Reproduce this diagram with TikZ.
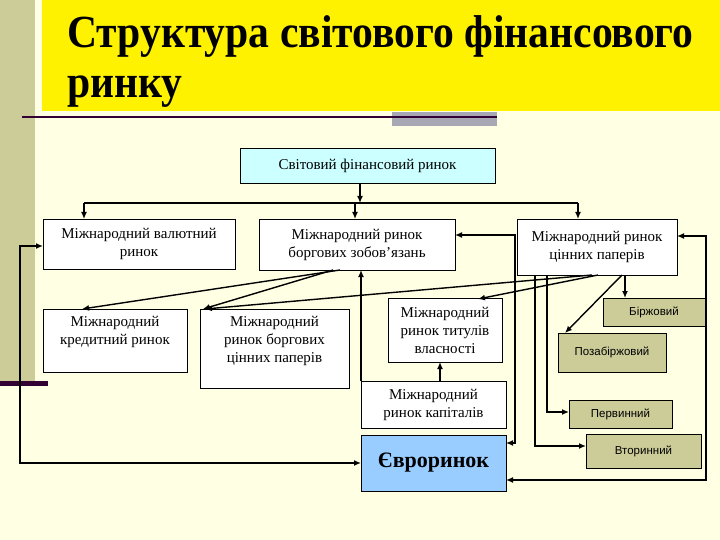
\documentclass[tikz,border=0pt]{standalone}
\usepackage{fontspec}
\setmainfont{Liberation Serif}
\newfontfamily\arialf{Liberation Sans}
\usetikzlibrary{arrows.meta}
\definecolor{bgc}{HTML}{FFFFE3}
\definecolor{khaki}{HTML}{CCCC99}
\definecolor{darkbar}{HTML}{330033}
\definecolor{graybar}{HTML}{A8A8B4}
\definecolor{cyanbox}{HTML}{CCFFFF}
\definecolor{bluebox}{HTML}{99CCFF}
\tikzset{
  box/.style={draw=black, line width=0.7pt, fill=white, align=center, inner sep=1pt, font=\fontsize{15}{18}\selectfont},
  kbox/.style={draw=black, line width=0.7pt, fill=khaki, align=center, inner sep=1pt, font=\arialf\fontsize{11.5}{13}\selectfont},
  conn/.style={line width=1.4pt, -{Latex[length=7pt,width=6pt]}},
  conn2/.style={line width=1.4pt, {Latex[length=7pt,width=6pt]}-{Latex[length=7pt,width=6pt]}},
  plain/.style={line width=1.4pt}
}
\begin{document}
\begin{tikzpicture}[x=1pt,y=-1pt]
\useasboundingbox (0,0) rectangle (720,540);
\fill[bgc] (0,0) rectangle (720,540);
\fill[khaki] (0,0) rectangle (35,385);
\fill[darkbar] (0,381) rectangle (48,386);
\fill[yellow] (42,0) rectangle (720,111);
\fill[graybar] (392,112) rectangle (497,126);
\draw[darkbar, line width=1.6pt] (22,117) -- (497,117);
\node[anchor=base west, inner sep=0, font=\bfseries\fontsize{46}{50}\selectfont] (t1) at (67,48) {\scalebox{0.905}[1]{Структура світового фінансового}};
\node[anchor=base west, inner sep=0, font=\bfseries\fontsize{46}{50}\selectfont] (t2) at (67,98) {\scalebox{0.905}[1]{ринку}};

\node[box, fill=cyanbox, minimum width=255, minimum height=35] (top) at (367.5,165.5) {Світовий фінансовий ринок};
\node[box, minimum width=192, minimum height=50] (val) at (139,244) {Міжнародний валютний\\ринок};
\node[box, minimum width=196, minimum height=51] (borg) at (357,244.5) {Міжнародний ринок\\боргових зобов'язань};
\node[box, minimum width=160, minimum height=56] (cin) at (597,247) {Міжнародний ринок\\цінних паперів};
\node[box, minimum width=144, minimum height=63] (kred) at (115,340.5) {Міжнародний\\кредитний ринок\\[-4pt]\strut};
\node[box, minimum width=149, minimum height=79] (borgc) at (274.5,348.5) {Міжнародний\\ринок боргових\\цінних паперів\\[-6pt]\strut};
\node[box, minimum width=114, minimum height=64] (tit) at (445,330) {Міжнародний\\ринок титулів\\власності};
\node[box, minimum width=145, minimum height=47] (kap) at (433.5,404.5) {Міжнародний\\ринок капіталів};
\node[box, fill=bluebox, minimum width=145, minimum height=56, font=\bfseries\fontsize{22}{24}\selectfont] (euro) at (433.5,463) {Євроринок};
\node[kbox, minimum width=102, minimum height=28] (birzh) at (654,312) {Біржовий};
\node[kbox, minimum width=108, minimum height=39] (poza) at (612,352.5) {Позабіржовий};
\node[kbox, minimum width=103, minimum height=28] (perv) at (620.5,414) {Первинний};
\node[kbox, minimum width=115, minimum height=34] (vtor) at (643.5,451) {Вторинний};

% top bus
\coordinate (bus) at (360,203);
\draw[conn] (top.south -| bus) -- (bus);
\draw[plain] (84,203) -- (578,203);
\draw[conn] (84,203) -- (84,219);
\draw[conn] (355,203) -- (355,219);
\draw[conn] (578,203) -- (578,219);

% diagonals from borg
\draw[conn] (340,270) -- (82,309);
\draw[conn] (333,270) -- (203,309);
% from cin
\draw[conn] (592,275) -- (205,309);
\draw[conn] (598,275) -- (478,299);
\draw[conn] (625,275) -- (625,298);
\draw[conn] (622,275) -- (565,333);

% kap connections
\draw[conn] (361,381) -- (361,270);
\draw[conn] (440,381) -- (440,362);

% borg <-> euro
\draw[conn2] (455,235) -- (515,235) -- (515,443) -- (506,443);
% cin <-> euro
\draw[conn2] (677,236) -- (706,236) -- (706,480) -- (506,480);
% val <-> euro
\draw[conn2] (43,246) -- (20,246) -- (20,463) -- (361,463);
% cin -> perv, vtor
\draw[conn] (547,275) -- (547,412) -- (569,412);
\draw[conn] (535,275) -- (535,446) -- (586,446);
\end{tikzpicture}
\end{document}
